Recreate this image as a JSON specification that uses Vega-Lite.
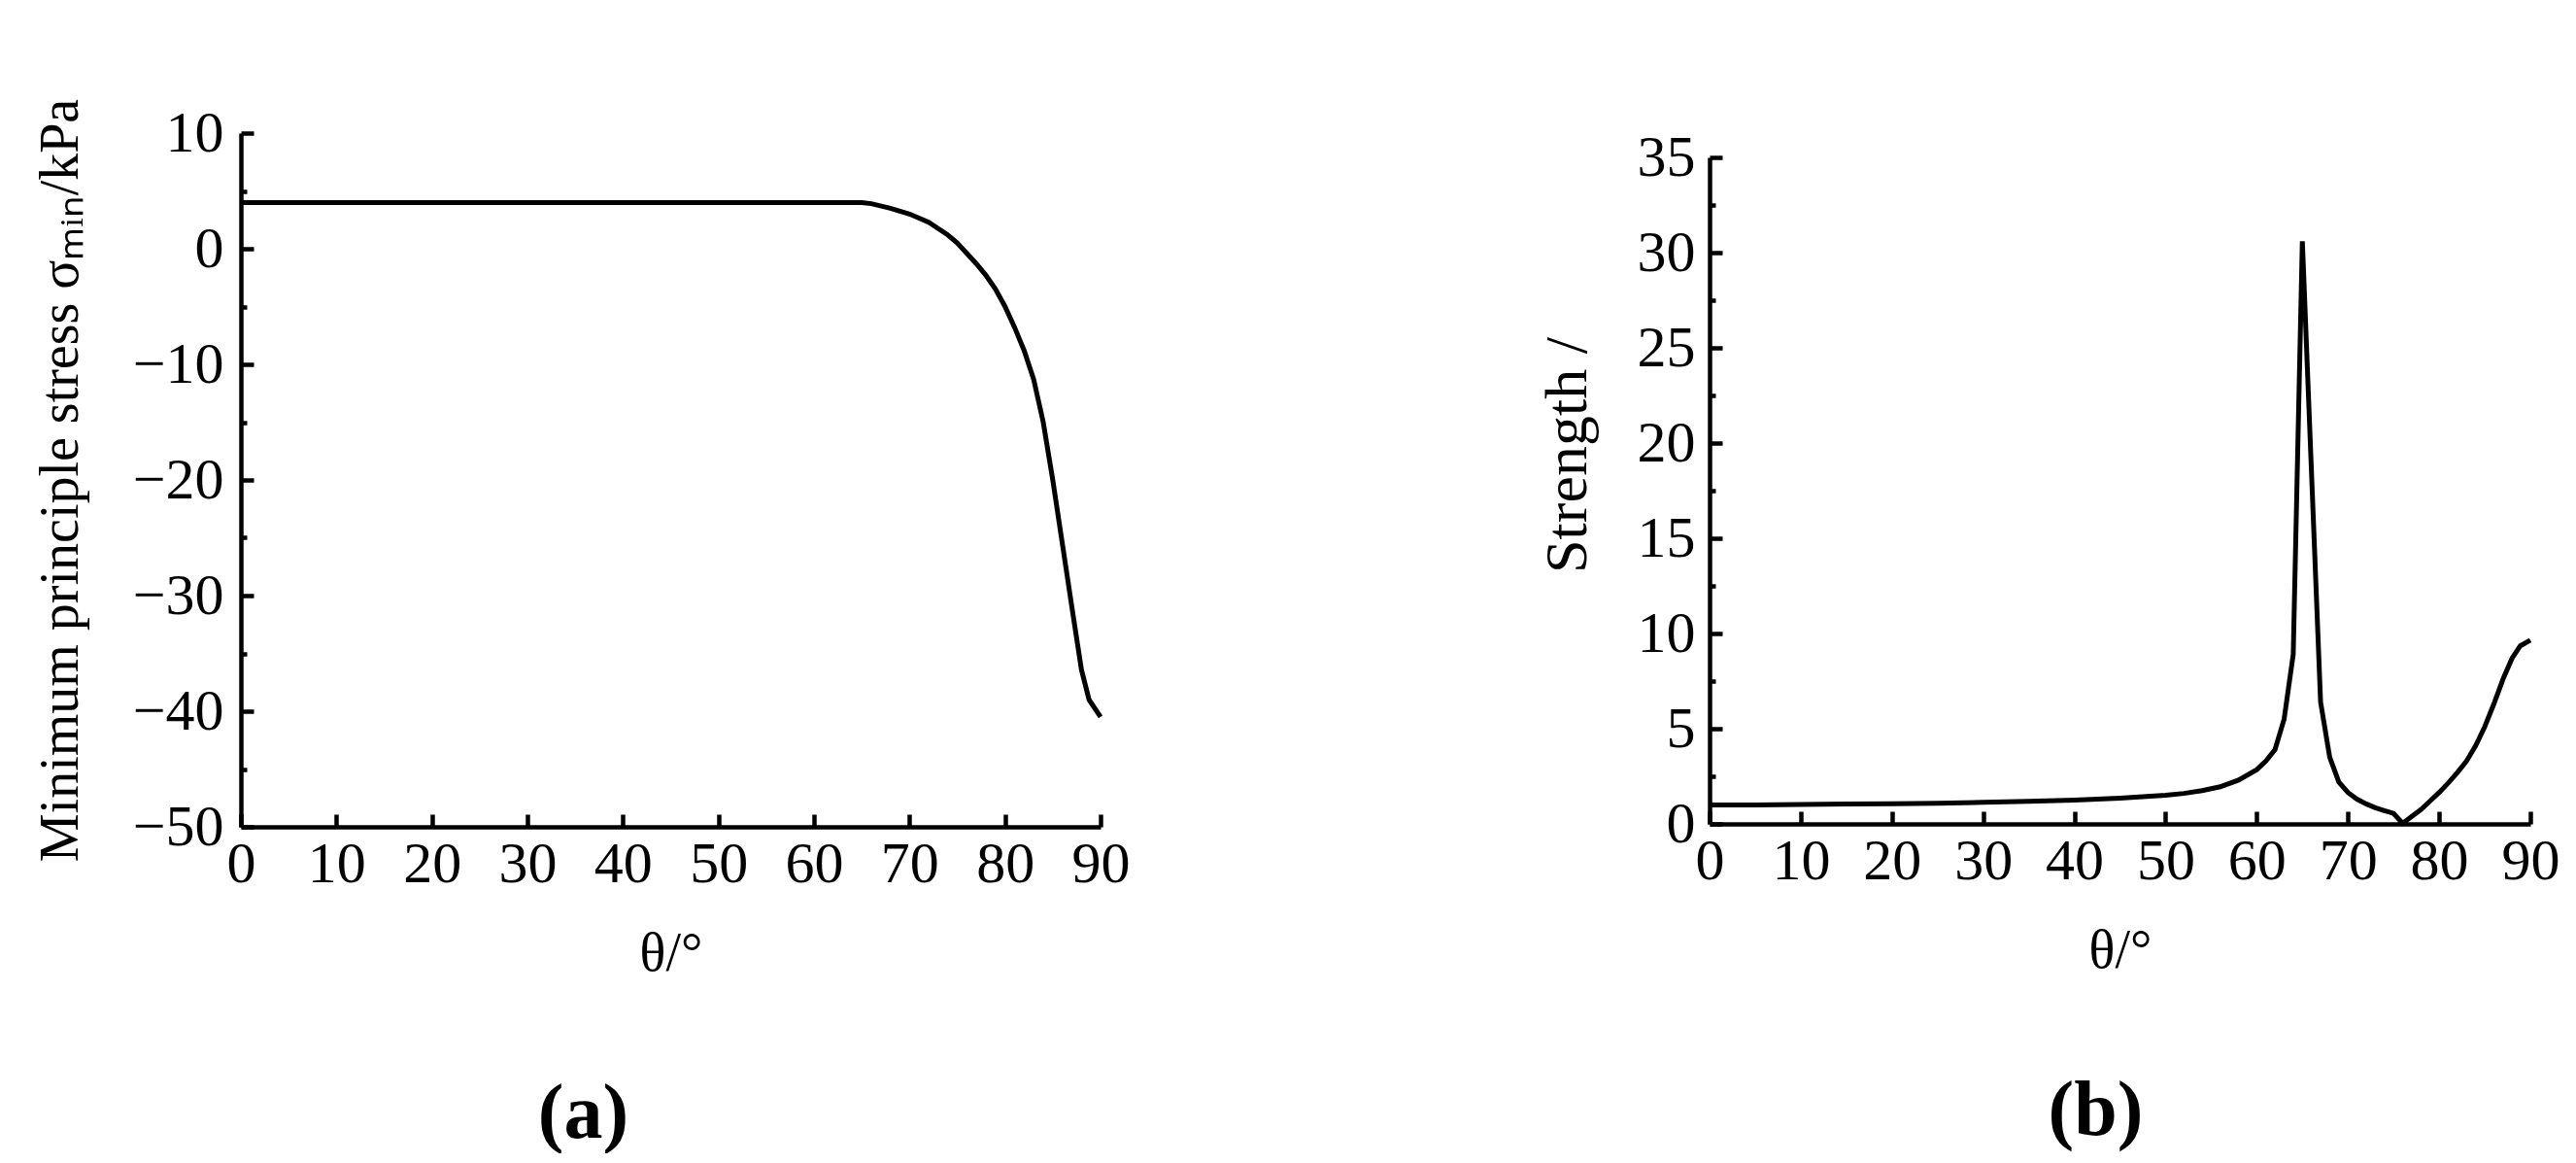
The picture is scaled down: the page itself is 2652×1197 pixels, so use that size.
{
  "$schema": "https://vega.github.io/schema/vega-lite/v6.json",
  "background": "white",
  "padding": {"left": 34, "top": 101, "right": 0, "bottom": 0},
  "datasets": {
    "a": [
      {"theta": 0, "stress": 4.0}, {"theta": 5, "stress": 4.0}, {"theta": 10, "stress": 4.0},
      {"theta": 15, "stress": 4.0}, {"theta": 20, "stress": 4.0}, {"theta": 25, "stress": 4.0},
      {"theta": 30, "stress": 4.0}, {"theta": 35, "stress": 4.0}, {"theta": 40, "stress": 4.0},
      {"theta": 45, "stress": 4.0}, {"theta": 50, "stress": 4.0}, {"theta": 55, "stress": 4.0},
      {"theta": 60, "stress": 4.0}, {"theta": 65, "stress": 4.0}, {"theta": 66, "stress": 3.9},
      {"theta": 68, "stress": 3.5}, {"theta": 70, "stress": 3.0}, {"theta": 72, "stress": 2.3},
      {"theta": 74, "stress": 1.2}, {"theta": 75, "stress": 0.5}, {"theta": 76, "stress": -0.4},
      {"theta": 77, "stress": -1.3}, {"theta": 78, "stress": -2.3}, {"theta": 79, "stress": -3.5},
      {"theta": 80, "stress": -5.0}, {"theta": 81, "stress": -6.8}, {"theta": 82, "stress": -8.8},
      {"theta": 83, "stress": -11.3}, {"theta": 84, "stress": -15.0}, {"theta": 85, "stress": -20.0},
      {"theta": 86, "stress": -25.5}, {"theta": 87, "stress": -31.0}, {"theta": 88, "stress": -36.4},
      {"theta": 88.8, "stress": -39.0}, {"theta": 90, "stress": -40.5}
    ],
    "b": [
      {"theta": 0, "strength": 1.0}, {"theta": 5, "strength": 1.0}, {"theta": 10, "strength": 1.02},
      {"theta": 15, "strength": 1.04}, {"theta": 20, "strength": 1.06}, {"theta": 25, "strength": 1.09},
      {"theta": 30, "strength": 1.13}, {"theta": 35, "strength": 1.18}, {"theta": 40, "strength": 1.25},
      {"theta": 45, "strength": 1.35}, {"theta": 50, "strength": 1.5}, {"theta": 52, "strength": 1.6},
      {"theta": 54, "strength": 1.75}, {"theta": 56, "strength": 1.95}, {"theta": 58, "strength": 2.3},
      {"theta": 60, "strength": 2.85}, {"theta": 61, "strength": 3.3}, {"theta": 62, "strength": 3.9},
      {"theta": 63, "strength": 5.5}, {"theta": 64, "strength": 8.9}, {"theta": 65, "strength": 30.6},
      {"theta": 67, "strength": 6.4}, {"theta": 68, "strength": 3.5}, {"theta": 69, "strength": 2.2},
      {"theta": 70, "strength": 1.65}, {"theta": 71, "strength": 1.3}, {"theta": 72, "strength": 1.05},
      {"theta": 73, "strength": 0.85}, {"theta": 74, "strength": 0.7}, {"theta": 75, "strength": 0.55},
      {"theta": 76, "strength": 0.03}, {"theta": 77, "strength": 0.4}, {"theta": 78, "strength": 0.75},
      {"theta": 79, "strength": 1.2}, {"theta": 80, "strength": 1.65}, {"theta": 81, "strength": 2.15},
      {"theta": 82, "strength": 2.7}, {"theta": 83, "strength": 3.3}, {"theta": 84, "strength": 4.1},
      {"theta": 85, "strength": 5.1}, {"theta": 86, "strength": 6.3}, {"theta": 87, "strength": 7.6},
      {"theta": 88, "strength": 8.7}, {"theta": 88.9, "strength": 9.35}, {"theta": 90, "strength": 9.65}
    ]
  },
  "config": {
    "view": {"stroke": null},
    "font": "Liberation Serif",
    "axis": {
      "grid": false,
      "domainColor": "black",
      "domainWidth": 4.5,
      "tickColor": "black",
      "tickWidth": 4.5,
      "labelFont": "Liberation Serif",
      "labelFontSize": 60,
      "labelColor": "black",
      "titleFont": "Liberation Serif",
      "titleFontSize": 56,
      "titleFontWeight": "normal",
      "titleColor": "black"
    }
  },
  "spacing": 419,
  "hconcat": [
    {
      "width": 885,
      "height": 714,
      "data": {"name": "a"},
      "title": {"text": "(a)", "orient": "bottom", "font": "Liberation Serif", "fontSize": 80, "fontWeight": "bold", "color": "black", "offset": 99, "frame": "group", "anchor": "middle", "dx": -90},
      "mark": {"type": "line", "color": "black", "strokeWidth": 5},
      "encoding": {
        "x": {
          "field": "theta", "type": "quantitative",
          "scale": {"domain": [0, 90], "nice": false},
          "axis": {"title": "θ/°", "values": [0, 10, 20, 30, 40, 50, 60, 70, 80, 90], "tickSize": -13, "labelPadding": 22, "titlePadding": 35, "labelFlush": false}
        },
        "y": {
          "field": "stress", "type": "quantitative",
          "scale": {"domain": [-50, 10], "nice": false, "zero": false},
          "axis": {
            "title": "Minimum principle stress σₘᵢₙ/kPa",
            "values": [-50, -45, -40, -35, -30, -25, -20, -15, -10, -5, 0, 5, 10],
            "labelExpr": "datum.value % 10 === 0 ? datum.label : ''",
            "tickSize": {"condition": {"test": "datum.value % 10 === 0", "value": -13}, "value": -6},
            "labelPadding": 31,
            "titlePadding": 45,
            "labelFlush": false
          }
        }
      }
    },
    {
      "spacing": -6,
      "vconcat": [
        {"width": 845, "height": 1, "data": {"values": []}, "mark": "point"},
        {
          "width": 845,
          "height": 686,
          "data": {"name": "b"},
          "title": {"text": "(b)", "orient": "bottom", "font": "Liberation Serif", "fontSize": 80, "fontWeight": "bold", "color": "black", "offset": 99, "frame": "group", "anchor": "middle", "dx": -25},
          "mark": {"type": "line", "color": "black", "strokeWidth": 5},
          "encoding": {
            "x": {
              "field": "theta", "type": "quantitative",
              "scale": {"domain": [0, 90], "nice": false},
              "axis": {"title": "θ/°", "values": [0, 10, 20, 30, 40, 50, 60, 70, 80, 90], "tickSize": -13, "labelPadding": 22, "titlePadding": 35, "labelFlush": false}
            },
            "y": {
              "field": "strength", "type": "quantitative",
              "scale": {"domain": [0, 35], "nice": false},
              "axis": {
                "title": "Strength /",
                "titleFontSize": 62,
                "titleY": 306,
                "values": [0, 2.5, 5, 7.5, 10, 12.5, 15, 17.5, 20, 22.5, 25, 27.5, 30, 32.5, 35],
                "labelExpr": "datum.value % 5 === 0 ? datum.label : ''",
                "tickSize": {"condition": {"test": "datum.value % 5 === 0", "value": -13}, "value": -6},
                "labelPadding": 28,
                "titlePadding": 40,
                "labelFlush": false
              }
            }
          }
        }
      ]
    }
  ]
}
